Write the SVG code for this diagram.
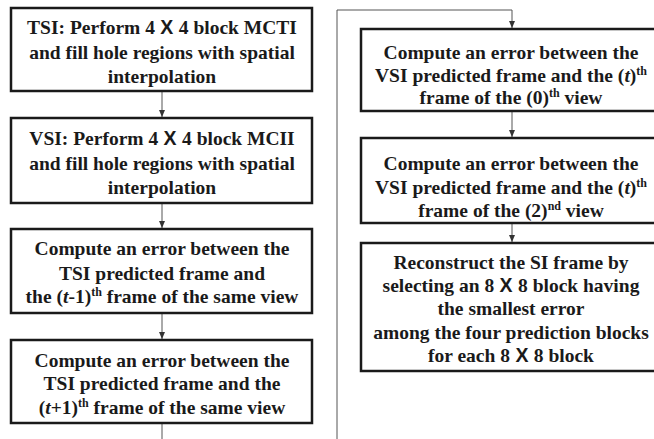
<svg xmlns="http://www.w3.org/2000/svg" width="654" height="439" viewBox="0 0 654 439">
<style>
.box{fill:#fff;stroke:#1a1a1a;stroke-width:2.5}
.t{font-family:"Liberation Serif","Times New Roman",serif;font-weight:bold;font-size:19.5px;fill:#1a1a1a;text-anchor:middle}
.x{font-family:"Liberation Sans",Arial,sans-serif;font-weight:bold}
.sup{font-size:12px}
.c{fill:none;stroke:#555;stroke-width:1}
</style>
<defs>
<marker id="ah" markerWidth="8" markerHeight="8" refX="7" refY="4" orient="auto" markerUnits="userSpaceOnUse">
<path d="M0,1 L7,4 L0,7 Z" fill="#333"/>
</marker>
</defs>
<rect width="654" height="439" fill="#fff"/>
<g id="connectors">
<line class="c" x1="162" y1="91" x2="162" y2="117" marker-end="url(#ah)"/>
<line class="c" x1="162" y1="203" x2="162" y2="228" marker-end="url(#ah)"/>
<line class="c" x1="162" y1="313" x2="162" y2="339" marker-end="url(#ah)"/>
<line class="c" x1="162" y1="423" x2="162" y2="440"/>
<polyline class="c" points="337,440 337,10 512,10 512,28" marker-end="url(#ah)"/>
<line class="c" x1="512" y1="111" x2="512" y2="137" marker-end="url(#ah)"/>
<line class="c" x1="512" y1="223" x2="512" y2="242" marker-end="url(#ah)"/>
</g>
<g id="n1">
<rect class="box" x="11" y="8" width="301" height="83"/>
<text class="t" x="162" y="34">TSI: Perform 4<tspan class="x"> X </tspan>4 block MCTI</text>
<text class="t" x="162" y="59">and fill hole regions with spatial</text>
<text class="t" x="162" y="83">interpolation</text>
</g>
<g id="n2">
<rect class="box" x="11" y="118" width="301" height="85"/>
<text class="t" x="162" y="145">VSI: Perform 4<tspan class="x"> X </tspan>4 block MCII</text>
<text class="t" x="162" y="170">and fill hole regions with spatial</text>
<text class="t" x="162" y="194">interpolation</text>
</g>
<g id="n3">
<rect class="box" x="11" y="229" width="301" height="84"/>
<text class="t" x="162" y="255">Compute an error between the</text>
<text class="t" x="162" y="280">TSI predicted frame and</text>
<text class="t" x="162" y="303">the (<tspan font-style="italic">t</tspan>-1)<tspan class="sup" dy="-7">th</tspan><tspan dy="7"> frame of the same view</tspan></text>
</g>
<g id="n4">
<rect class="box" x="11" y="340" width="301" height="83"/>
<text class="t" x="162" y="367">Compute an error between the</text>
<text class="t" x="162" y="390">TSI predicted frame and the</text>
<text class="t" x="162" y="414">(<tspan font-style="italic">t</tspan>+1)<tspan class="sup" dy="-7">th</tspan><tspan dy="7"> frame of the same view</tspan></text>
</g>
<g id="n5">
<rect class="box" x="361" y="29" width="302" height="82"/>
<text class="t" x="511" y="59">Compute an error between the</text>
<text class="t" x="511" y="82">VSI predicted frame and the (<tspan font-style="italic">t</tspan>)<tspan class="sup" dy="-7">th</tspan></text>
<text class="t" x="511" y="104">frame of the (0)<tspan class="sup" dy="-7">th</tspan><tspan dy="7"> view</tspan></text>
</g>
<g id="n6">
<rect class="box" x="361" y="138" width="302" height="85"/>
<text class="t" x="511" y="170">Compute an error between the</text>
<text class="t" x="511" y="194">VSI predicted frame and the (<tspan font-style="italic">t</tspan>)<tspan class="sup" dy="-7">th</tspan></text>
<text class="t" x="511" y="217">frame of the (2)<tspan class="sup" dy="-7">nd</tspan><tspan dy="7"> view</tspan></text>
</g>
<g id="n7">
<rect class="box" x="361" y="243" width="302" height="128"/>
<text class="t" x="511" y="269">Reconstruct the SI frame by</text>
<text class="t" x="511" y="292">selecting an 8<tspan class="x"> X </tspan>8 block having</text>
<text class="t" x="511" y="315">the smallest error</text>
<text class="t" x="511" y="339">among the four prediction blocks</text>
<text class="t" x="511" y="362">for each 8<tspan class="x"> X </tspan>8 block</text>
</g>
</svg>
